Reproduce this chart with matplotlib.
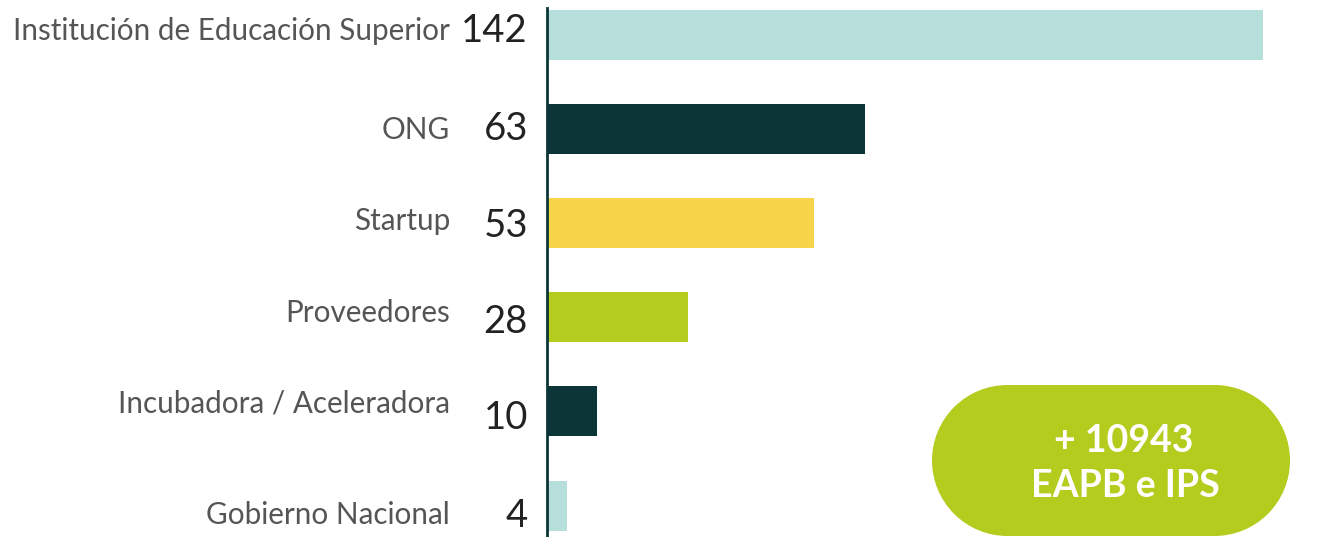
import matplotlib
matplotlib.use("Agg")
import matplotlib.pyplot as plt
from matplotlib.patches import Ellipse, Rectangle

categories = ["Institución de Educación Superior", "ONG", "Startup",
              "Proveedores", "Incubadora / Aceleradora", "Gobierno Nacional"]
values = [142, 63, 53, 28, 10, 4]
colors = ["#b6dfdb", "#0b3536", "#f6d54a", "#b3cc1e", "#0b3536", "#b6dfdb"]
badge_lines = ["+ 10943", "EAPB e IPS"]

W, H = 1321, 537
plt.rcParams['font.family'] = ['Lato', 'DejaVu Sans']
fig = plt.figure(figsize=(W / 100, H / 100), dpi=100)

pitch = 94.1
y0 = 35
top_px, bot_px = 8, 537
ax = fig.add_axes([547 / W, 0, (1263 - 547) / W, (bot_px - top_px) / H])
ax.patch.set_visible(False)
ypos = list(range(len(categories)))
ax.barh(ypos, values, height=50 / pitch, color=colors)
ax.set_xlim(0, 142)
ax.set_ylim((bot_px - y0) / pitch, (top_px - y0) / pitch)
for s in ["top", "right", "bottom"]:
    ax.spines[s].set_visible(False)
ax.spines["left"].set_color("#0b3536")
ax.spines["left"].set_linewidth(2)
ax.set_xticks([])
ax.set_yticks([])

# overlay axes in pixel coordinates for labels and badge
ov = fig.add_axes([0, 0, 1, 1], zorder=2)
ov.set_xlim(0, W)
ov.set_ylim(H, 0)
ov.axis("off")

cat_base = [40, 139, 230, 322, 413, 524]
val_base = [42, 140, 237, 333, 429, 527]
for i, (c, v) in enumerate(zip(categories, values)):
    ov.text(450, cat_base[i], c, ha="right", va="baseline", fontsize=21.3, color="#555555")
    ov.text(528, val_base[i], str(v), ha="right", va="baseline", fontsize=27.5, color="#222222")

# stadium-shaped badge
bx0, bx1, by0, by1 = 932, 1290, 385, 536
r = (by1 - by0) / 2
badge_color = "#b3cc1e"
cy = (by0 + by1) / 2
ov.add_patch(Rectangle((bx0 + r, by0), (bx1 - bx0) - 2 * r, by1 - by0,
                       facecolor=badge_color, edgecolor="none"))
ov.add_patch(Ellipse((bx0 + r, cy), 2 * r, 2 * r, facecolor=badge_color, edgecolor="none"))
ov.add_patch(Ellipse((bx1 - r, cy), 2 * r, 2 * r, facecolor=badge_color, edgecolor="none"))
ov.text(1124, 452, badge_lines[0], ha="center", va="baseline", fontsize=27,
        fontweight="bold", color="white")
ov.text(1125, 497, badge_lines[1], ha="center", va="baseline", fontsize=27,
        fontweight="bold", color="white")

fig.savefig("out.png", dpi=100)
